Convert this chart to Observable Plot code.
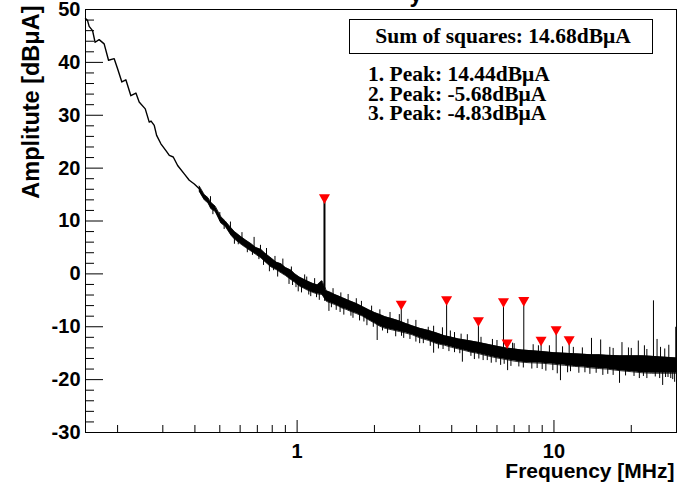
<!DOCTYPE html>
<html><head><meta charset="utf-8">
<script src="https://cdn.jsdelivr.net/npm/d3@7"></script>
<script src="https://cdn.jsdelivr.net/npm/@observablehq/plot@0.6"></script>
<style>
body{margin:0;background:#fff}
#chart{width:688px;height:485px;overflow:hidden}
</style>
</head><body><div id="chart"></div>
<script>
// ---- data ----
const titleFragment = "y";
const xLabel = "Frequency [MHz]";
const yLabel = "Amplitute [dBμA]";
const xTickLabels = [1, 10];
const xMajorTicks = [1, 10];
const xMinorTicks = [0.2,0.3,0.4,0.5,0.6,0.7,0.8,0.9,2,3,4,5,6,7,8,9,20];
const yMajorTicks = [-30,-20,-10,0,10,20,30,40,50];
const yMinorTicks = [-28,-26,-24,-22,-18,-16,-14,-12,-8,-6,-4,-2,2,4,6,8,12,14,16,18,22,24,26,28,32,34,36,38,42,44,46,48];

const legendTitle = "Sum of squares: 14.68dBμA";
const legendLines = ["1. Peak: 14.44dBμA", "2. Peak: -5.68dBμA", "3. Peak: -4.83dBμA"];

// low-frequency trace (MHz, dBμA)
const lowF = [0.150,0.1528,0.155,0.1598,0.1635,0.1695,0.1773,0.1844,0.194,0.200,0.2078,0.2154,0.2253,0.2357,0.2427,0.2563,0.2656,0.270,0.2778,0.2838,0.2949,0.3085,0.318,0.3294,0.3426,0.3636,0.3803,0.3978,0.416,0.4351];
const lowY = [48.3,47.9,46.8,46.0,43.8,44.3,43.5,40.4,40.7,38.8,36.3,36.7,33.7,34.2,32.5,31.2,28.7,28.9,28.1,26.2,24.6,23.3,22.4,22.1,20.5,18.9,17.7,17.0,16.1,14.5];

// noise band envelope (MHz, lower dBμA, upper dBμA)
const bandF  = [0.416,0.435,0.45,0.462,0.48,0.505,0.525,0.553,0.57,0.605,0.63,0.662,0.69,0.724,0.75,0.792,0.83,0.866,0.90,0.947,0.98,1.02,1.06,1.10,1.15,1.20,1.25,1.30,1.35,1.40,1.45,1.50,1.55,1.60,1.70,1.80,1.90,2.00,2.10,2.20,2.35,2.50,2.65,2.80,3.00,3.25,3.50,3.75,4.00,4.25,4.50,4.75,5.00,5.50,6.00,6.50,7.00,7.50,8.00,9.00,10.0,11.0,12.0,13.0,14.0,15.0,16.0,18.0,20.0,22.0,24.0,26.0,28.0,30.0];
const bandLo = [15.6,14.0,13.4,12.3,11.8,9.6,9.0,7.3,6.6,5.6,5.0,4.3,3.7,3.0,2.3,1.3,0.8,0.2,-0.3,-1.1,-1.6,-2.3,-2.7,-3.1,-3.5,-3.8,-3.9,-5.2,-5.5,-5.8,-6.1,-6.5,-6.7,-7.0,-7.5,-8.0,-8.7,-9.3,-9.9,-10.3,-10.6,-10.9,-11.2,-11.5,-12.1,-12.6,-13.2,-13.5,-13.9,-14.2,-14.5,-14.8,-15.0,-15.5,-15.9,-16.2,-16.5,-16.7,-16.8,-16.9,-17.1,-17.3,-17.5,-17.6,-17.8,-17.9,-18.0,-18.3,-18.5,-18.7,-18.8,-18.8,-18.8,-18.8];
const bandHi = [16.6,15.0,14.4,13.5,12.8,10.8,10.0,8.7,8.0,7.0,6.4,5.7,5.0,4.6,3.9,3.0,2.2,1.9,1.2,0.7,0.0,-0.6,-1.0,-1.4,-1.8,-2.1,-1.3,-3.2,-3.5,-3.9,-4.2,-4.5,-4.8,-5.1,-5.6,-6.2,-6.8,-7.3,-7.7,-8.1,-8.5,-8.9,-9.4,-9.8,-10.3,-10.7,-11.2,-11.7,-12.0,-12.3,-12.5,-12.7,-12.9,-13.3,-13.7,-14.0,-14.2,-14.4,-14.5,-14.7,-14.9,-15.0,-15.1,-15.2,-15.3,-15.3,-15.4,-15.5,-15.5,-15.5,-15.6,-15.7,-15.8,-15.9];

// individual noise spikes (MHz, from dBμA, to dBμA)
const spikeF  = [0.46,0.47,0.55,0.57,0.64,0.68,0.74,0.76,0.78,0.84,0.88,0.93,0.99,1.04,1.07,1.13,1.17,1.22,1.33,1.38,1.42,1.52,1.58,1.65,1.75,1.78,1.87,1.95,2.05,2.25,2.3,2.42,2.6,2.7,2.9,3.1,3.24,3.4,3.68,3.7,4.1,4.1,4.4,4.6,4.9,5.3,5.7,5.76,6.2,6.6,7.0,7.3,8.2,8.3,9.3,9.6,10.3,10.6,11.3,11.9,12.5,13.8,14.0,15.2,15.5,17.0,17.0,18.0,18.4,19.5,20.5,21.3,21.5,23.0,23.0,24.4,24.8,25.2,26.5,27.0,27.2,28.5,29.5,29.8,
  0.52,0.59,0.67,0.71,0.81,0.96,1.01,1.11,1.19,1.28,1.36,1.47,1.62,1.82,1.98,2.15,2.55,2.75,3.0,3.3,3.55,3.9,4.3,4.75,5.1,5.5,5.95,6.4,6.8,7.6,8.6,9.0,9.9,11.6,13.2,14.6,16.2,19.0,22.3,25.8,27.8,29.0,
  0.50,0.61,0.72,0.82,0.95,1.09,1.48,1.7,2.1,2.5,2.9,3.4,3.95,4.35,5.2,6.0,6.9,8.7,10.8,12.9,16.5,20.0,22.5,26.0,28.0];
const spikeY1 = [13.0,12.8,8.0,7.2,5.7,4.5,3.3,3.0,2.3,1.2,0.8,0.0,-0.8,-1.6,-2.0,-2.4,-2.7,-3.0,-4.4,-4.8,-5.0,-5.7,-6.0,-6.4,-6.8,-7.0,-7.6,-8.0,-8.6,-9.4,-9.5,-9.8,-10.2,-10.4,-11.0,-11.4,-11.6,-12.1,-12.5,-12.5,-13.2,-13.2,-13.5,-13.7,-14.0,-14.3,-14.6,-14.6,-15.0,-15.3,-15.5,-15.6,-15.8,-15.8,-15.9,-16.0,-16.1,-16.2,-16.3,-16.4,-16.5,-16.6,-16.6,-16.7,-16.7,-16.9,-16.9,-17.0,-17.0,-17.0,-17.1,-17.1,-17.2,-17.2,-17.2,-17.2,-17.3,-17.3,-17.3,-17.3,-17.3,-17.4,-17.4,-17.4,
  9.5,6.8,4.9,4.0,2.0,-0.4,-1.5,-2.2,-2.9,-3.5,-4.5,-5.2,-6.0,-7.1,-8.2,-8.8,-9.9,-10.6,-11.2,-11.7,-12.2,-12.9,-13.2,-13.7,-14.0,-14.4,-14.8,-15.1,-15.3,-15.5,-15.8,-15.8,-16.0,-16.2,-16.4,-16.5,-16.7,-17.0,-17.1,-17.2,-17.3,-17.3,
  9.9,6.3,3.8,1.5,-0.2,-2.2,-5.4,-6.6,-8.8,-9.9,-10.8,-12.0,-12.9,-13.3,-14.1,-14.8,-15.3,-15.8,-16.1,-16.4,-16.7,-17.0,-17.1,-17.3,-17.3];
const spikeY2 = [14.6,11.2,9.8,5.6,4.0,6.9,1.6,4.8,0.4,-0.6,2.8,-2.0,-2.6,-3.6,-0.2,-4.3,-0.9,-5.0,-7.1,-2.8,-6.9,-7.8,-3.9,-8.4,-8.9,-5.2,-9.8,-6.1,-12.6,-11.3,-7.3,-11.9,-12.2,-8.6,-12.9,-13.2,-10.1,-15.0,-10.2,-14.3,-14.9,-11.1,-16.7,-11.5,-16.2,-16.4,-16.9,-12.4,-17.3,-18.3,-13.2,-17.6,-18.0,-13.4,-18.4,-13.6,-18.9,-20.2,-18.7,-13.9,-18.8,-19.0,-12.2,-12.5,-19.2,-19.2,-14.1,-20.7,-13.0,-14.0,-19.4,-12.7,-19.8,-19.8,-14.3,-5.1,-19.5,-12.4,-21.1,-14.2,-19.6,-19.8,-20.5,-10.1,
  8.4,5.5,3.5,2.7,0.6,-2.2,-3.4,-4.0,-4.5,-5.2,-6.4,-7.3,-8.0,-9.1,-10.1,-10.8,-11.8,-12.4,-13.2,-13.7,-14.2,-14.7,-15.1,-15.6,-16.1,-16.4,-16.8,-17.1,-17.5,-17.8,-17.9,-18.1,-18.3,-18.5,-18.7,-18.8,-19.0,-19.3,-19.4,-19.8,-19.6,-20.0,
  11.6,7.8,5.4,3.3,1.3,-0.6,-3.6,-4.7,-6.8,-7.7,-8.8,-9.9,-10.8,-11.4,-12.0,-12.6,-13.1,-13.6,-13.8,-14.0,-13.9,-14.1,-13.6,-13.9,-13.5];

// marked peaks (MHz, peak dBμA, floor dBμA)
const peakF    = [1.278,2.544,3.82,5.08,6.36,6.57,7.63,8.91,10.2,11.46];
const peakY    = [14.44,-5.68,-4.83,-8.8,-5.2,-13.0,-5.0,-12.5,-10.5,-12.4];
const peakBase = [-3.0,-9.8,-12.6,-14.1,-15.0,-15.2,-15.6,-15.9,-16.1,-16.3];

// ---- build tables ----
const low = lowF.map((f,i)=>({f, y: lowY[i]}));
const band = bandF.map((f,i)=>({f, lo: bandLo[i], hi: bandHi[i]}));
const spikes = spikeF.map((f,i)=>({f, y1: spikeY1[i], y2: spikeY2[i]}));
const peaks = peakF.map((f,i)=>({f, y: peakY[i], base: peakBase[i]}));

const sans = "'Liberation Sans', Arial, Helvetica, sans-serif";
const serif = "'Liberation Serif', 'Times New Roman', serif";

const chart = Plot.plot({
  width: 688, height: 485,
  marginLeft: 85, marginRight: 12, marginTop: 9, marginBottom: 53,
  style: {background: "white", fontFamily: sans, color: "black", overflow: "visible"},
  x: {type: "log", domain: [0.15, 30]},
  y: {domain: [-30, 50]},
  marks: [
    Plot.areaY(band, {x: "f", y1: "lo", y2: "hi", fill: "black"}),
    Plot.line(band, {x: "f", y: "lo", stroke: "black", strokeWidth: 0.8}),
    Plot.line(band, {x: "f", y: "hi", stroke: "black", strokeWidth: 0.8}),
    Plot.line(low, {x: "f", y: "y", stroke: "black", strokeWidth: 1.4}),
    Plot.ruleX(spikes, {x: "f", y1: "y1", y2: "y2", stroke: "black", strokeWidth: 1}),
    Plot.ruleX(peaks.slice(0, 1), {x: "f", y1: "base", y2: "y", stroke: "black", strokeWidth: 2}),
    Plot.ruleX(peaks.slice(1), {x: "f", y1: "base", y2: "y", stroke: "black", strokeWidth: 1}),
    Plot.dot(peaks, {x: "f", y: "y", symbol: "triangle", rotate: 180, r: 4.1, fill: "#ff0000", stroke: "none"}),
    // inward ticks
    Plot.ruleX(xMajorTicks, {x: d => d, y1: -30, y2: -30, insetTop: -12, stroke: "black"}),
    Plot.ruleX(xMinorTicks, {x: d => d, y1: -30, y2: -30, insetTop: -7, stroke: "black"}),
    Plot.ruleY(yMajorTicks, {y: d => d, x1: 0.15, x2: 0.15, insetRight: -18, stroke: "black"}),
    Plot.ruleY(yMinorTicks, {y: d => d, x1: 0.15, x2: 0.15, insetRight: -9, stroke: "black"}),
    Plot.axisX({ticks: xTickLabels, tickSize: 0, tickPadding: 11, tickFormat: d => String(d), fontSize: 20, fontWeight: "bold", label: null}),
    Plot.axisY({ticks: yMajorTicks, tickSize: 0, tickPadding: 5, tickFormat: d => String(d), fontSize: 20, fontWeight: "bold", label: null}),
    Plot.frame({stroke: "black", strokeWidth: 1}),
    Plot.text([xLabel], {frameAnchor: "bottom-right", textAnchor: "end", dx: -2, dy: 45, fontSize: 21, fontWeight: "bold", fill: "black", ariaLabel: "xlabel"}),
    Plot.text([yLabel], {frameAnchor: "top-left", textAnchor: "end", rotate: -90, dx: -63, dy: -4, fontSize: 23.5, fontWeight: "bold", fill: "black"})
  ]
});

const svg = d3.select(chart);
svg.selectAll("text").style("font-weight", "bold");
svg.selectAll("g[aria-label='xlabel'] text").attr("textLength", 151).attr("lengthAdjust", "spacingAndGlyphs");
// partially visible title
svg.append("text").attr("x", 416).attr("y", 2).attr("text-anchor", "middle")
  .style("font-family", sans).style("font-weight", "bold").style("font-size", "23px")
  .text(titleFragment);
// legend
const lg = svg.append("g");
lg.append("rect").attr("x", 349.5).attr("y", 19.5).attr("width", 303).attr("height", 34)
  .attr("fill", "white").attr("stroke", "black").attr("stroke-width", 1);
lg.append("text").attr("x", 503).attr("y", 43).attr("text-anchor", "middle")
  .style("font-family", serif).style("font-weight", "bold").style("font-size", "21.5px")
  .text(legendTitle);
legendLines.forEach((t, i) => {
  lg.append("text").attr("x", 368).attr("y", 81 + i * 19.5).attr("text-anchor", "start")
    .style("font-family", serif).style("font-weight", "bold").style("font-size", "21.5px")
    .text(t);
});

document.getElementById("chart").append(chart);
</script>
</body></html>
